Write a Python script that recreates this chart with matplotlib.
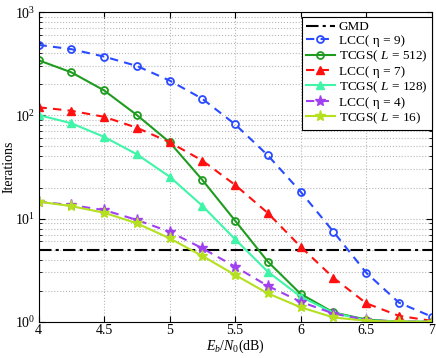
import matplotlib
matplotlib.use("Agg")
import matplotlib.pyplot as plt
import numpy as np

plt.rcParams['font.family'] = ['Liberation Serif', 'DejaVu Serif']
plt.rcParams['mathtext.fontset'] = 'custom'
plt.rcParams['mathtext.rm'] = 'Liberation Serif'
plt.rcParams['mathtext.it'] = 'Liberation Serif:italic'

ebn0 = [4, 4.25, 4.5, 4.75, 5, 5.25, 5.5, 5.75, 6, 6.25, 6.5, 6.75, 7]
gmd = 5.0
lcc9 = [483, 439, 372, 302, 218, 145, 82, 41, 18.2, 7.46, 2.99, 1.53, 1.12]
tcgs512 = [343, 262, 175, 101, 55, 23.7, 9.55, 3.82, 1.86, 1.23, 1.05, 1.0, 1.0]
lcc7 = [120, 111, 97, 76, 55, 36.5, 21.2, 11.3, 5.34, 2.67, 1.51, 1.14, 1.02]
tcgs128 = [101, 84, 62, 42, 25.5, 13.3, 6.3, 3.05, 1.75, 1.22, 1.03, 1.0, 1.0]
lcc4 = [14.6, 13.5, 12.1, 9.7, 7.46, 5.15, 3.42, 2.22, 1.56, 1.2, 1.04, 1.0, 1.0]
tcgs16 = [14.6, 13.2, 11.4, 9.0, 6.44, 4.34, 2.84, 1.88, 1.38, 1.1, 1.02, 1.0, 1.0]
xticks = [4, 4.5, 5, 5.5, 6, 6.5, 7]

fig = plt.figure(figsize=(4.36, 3.58), dpi=100)
ax = fig.add_axes([38.5/436, 1-321.7/358, (431.7-38.5)/436, (321.7-12.3)/358])

ax.axhline(gmd, color='k', ls=(0, (6, 2, 1.5, 2)), lw=1.5, label='GMD')
ax.plot(ebn0, lcc9, color='#2a4bff', ls=(0, (4, 3)), lw=1.5, marker='o', ms=5, mfc='none', mew=1.3, label='LCC( η = 9)')
ax.plot(ebn0, tcgs512, color='#1f9c1f', ls='-', lw=1.5, marker='o', ms=5, mfc='none', mew=1.3, label=r'TCGS( $L$ = 512)')
ax.plot(ebn0, lcc7, color='#ff1010', ls=(0, (4, 3)), lw=1.5, marker='^', ms=6, label='LCC( η = 7)')
ax.plot(ebn0, tcgs128, color='#40f5a8', ls='-', lw=1.5, marker='^', ms=6, label=r'TCGS( $L$ = 128)')
ax.plot(ebn0, lcc4, color='#a040f0', ls=(0, (4, 3)), lw=1.5, marker='*', ms=8, label='LCC( η = 4)')
ax.plot(ebn0, tcgs16, color='#b4e020', ls='-', lw=1.5, marker='*', ms=8, label=r'TCGS( $L$ = 16)')

ax.set_yscale('log')
ax.set_xlim(4, 7)
ax.set_ylim(1, 1000)
ax.set_xticks(xticks)
ax.set_xticklabels([f'{t:g}' for t in xticks])
ax.grid(True, which='major', ls=':', color='#b8b8b8', lw=0.8)
ax.grid(True, which='minor', axis='y', ls=':', color='#b8b8b8', lw=0.8)
ax.tick_params(which='both', direction='in', top=True, right=True, labelsize=10, pad=2)
ax.tick_params(which='major', length=4)
ax.tick_params(which='minor', length=2)
for s in ax.spines.values():
    s.set_linewidth(0.8)
ax.set_xlabel(r'$E_b/N_0$(dB)', fontsize=10, labelpad=0)
ax.set_ylabel('Iterations', fontsize=10, labelpad=0)

leg = ax.legend(loc='upper right', fontsize=9.5, frameon=True, fancybox=False,
                edgecolor='k', framealpha=1, borderaxespad=0.0,
                bbox_to_anchor=(1.0, 0.985), handlelength=2.2,
                labelspacing=0.12, borderpad=0.3, handletextpad=0.3)
leg.get_frame().set_linewidth(0.8)

fig.savefig('out.png', dpi=100)
